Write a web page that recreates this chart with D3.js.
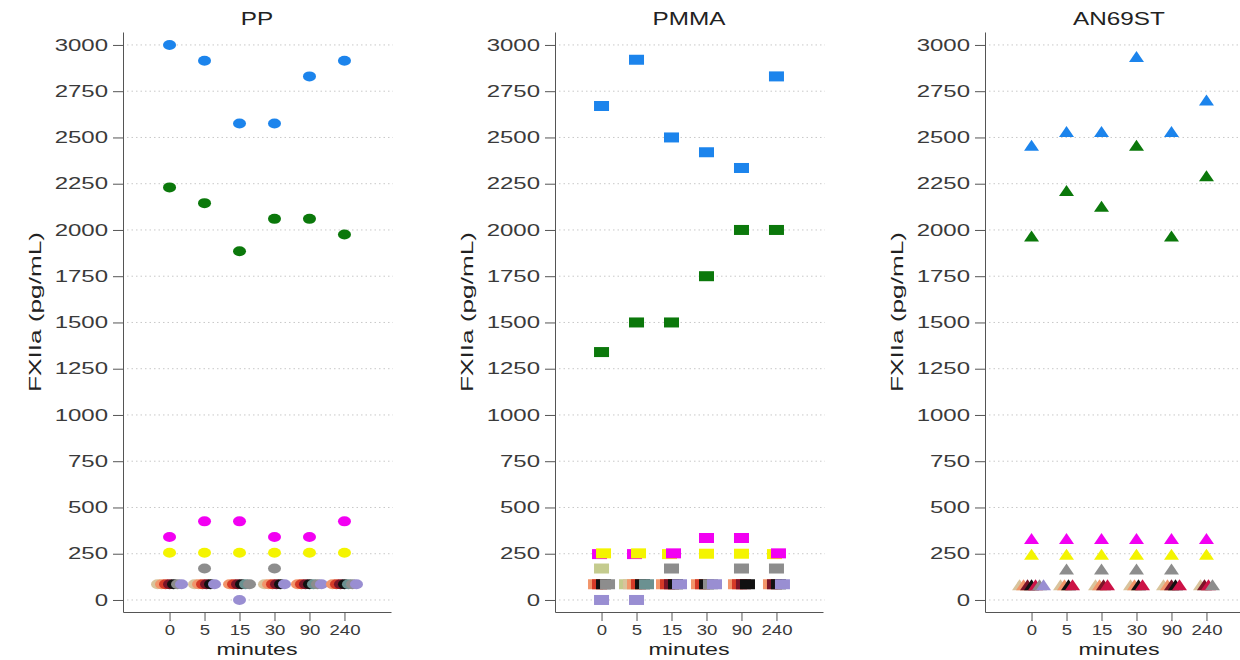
<!DOCTYPE html>
<html>
<head>
<meta charset="utf-8">
<script src="https://cdn.jsdelivr.net/npm/d3@7"></script>
<style>
  html,body{margin:0;padding:0;background:#fff;}
  svg{display:block;font-family:"Liberation Sans",Arial,Helvetica,sans-serif;}
</style>
</head>
<body>
<svg id="chart" width="1240" height="660"></svg>
<script>
// ---------------- data ----------------
const times = ["0", "5", "15", "30", "90", "240"];
const panels = ["PP", "PMMA", "AN69ST"];
const shapes = ["circle", "square", "triangle"];
const yTicks = [0, 250, 500, 750, 1000, 1250, 1500, 1750, 2000, 2250, 2500, 2750, 3000];

const subjects = ["blue", "green", "magenta", "yellow", "khaki", "tan", "salmon", "red",
                  "darkred", "black", "crimson", "slate", "gray", "lavender"];
const subjectColors = ["#1c84ec", "#0b780b", "#f200f2", "#f4f400", "#c4cb8e", "#d9c49c", "#f2956a", "#d53a27",
                       "#7a1428", "#111111", "#cc1246", "#6b9191", "#8d8d8d", "#998ed2"];

// values per subject (rows follow `subjects`), columns follow `times`; null = no point
const ppValues = [
  [3000, 2915, 2575, 2575, 2830, 2915],
  [2230, 2145, 1885, 2060, 2060, 1975],
  [340, 425, 425, 340, 340, 425],
  [255, 255, 255, 255, 255, 255],
  [null, null, null, null, null, null],
  [85, 85, null, 85, null, null],
  [85, 85, 85, 85, 85, 85],
  [85, 85, 85, 85, 85, 85],
  [85, 85, 85, 85, 85, 85],
  [85, 85, 85, 85, 85, 85],
  [null, null, null, null, null, null],
  [null, null, 85, null, 85, 85],
  [85, 170, 85, 170, 85, 85],
  [85, 85, 0, 85, 85, 85]
];
const pmmaValues = [
  [2670, 2920, 2500, 2420, 2335, 2830],
  [1340, 1500, 1500, 1750, 2000, 2000],
  [248, 248, 252, 335, 335, 252],
  [252, 252, 248, 250, 250, 248],
  [170, 85, null, null, null, null],
  [null, 85, null, null, null, null],
  [85, 85, 85, 85, 85, 85],
  [85, 85, 85, 85, 85, null],
  [null, null, 85, null, 85, 85],
  [85, 85, 85, 85, 85, 85],
  [null, null, null, null, null, null],
  [null, 85, null, null, null, null],
  [85, null, 170, 85, 170, 170],
  [0, 0, 85, 85, null, 85]
];
const an69Values = [
  [2455, 2530, 2530, 2935, 2530, 2700],
  [1965, 2210, 2125, 2455, 1965, 2290],
  [330, 330, 330, 330, 330, 330],
  [245, 245, 245, 245, 245, 245],
  [null, null, null, null, null, null],
  [80, 80, 80, 80, 80, 80],
  [80, 80, 80, 80, 80, null],
  [null, null, null, null, null, null],
  [80, null, 80, null, 80, 80],
  [80, 80, null, 80, 80, null],
  [80, 80, 80, 80, 80, 80],
  [null, null, null, null, null, null],
  [80, 165, 165, 165, 165, 80],
  [80, null, null, null, null, null]
];
const panelValues = [ppValues, pmmaValues, an69Values];

// ---------------- layout ----------------
const svg = d3.select("#chart");
const axisX = [123, 555, 985];
const plotW = 268, yTop = 32, yBot = 612;
const dodge = 4;

const y = d3.scaleLinear().domain([-65, 3070]).range([yBot, yTop]);
const x = d3.scalePoint().domain(times).range([0, plotW]).padding(1.33);

panels.forEach((name, p) => {
  const g = svg.append("g").attr("transform", `translate(${axisX[p]},0)`);

  // gridlines
  g.append("g").selectAll("line").data(yTicks).join("line")
    .attr("x1", 4).attr("x2", plotW + 2)
    .attr("y1", d => y(d)).attr("y2", d => y(d))
    .attr("stroke", "#c8c8c8").attr("stroke-width", 1)
    .attr("stroke-dasharray", "1.5,3");

  // y axis
  const ya = g.append("g").call(d3.axisLeft(y).tickValues(yTicks).tickFormat(d3.format("d"))
    .tickSize(10).tickSizeOuter(0).tickPadding(5));
  ya.select(".domain").attr("stroke", "#555");
  ya.selectAll(".tick line").attr("stroke", "#555");
  ya.selectAll(".tick text").attr("font-size", 16).attr("fill", "#3a3a3a")
    .attr("font-family", "Liberation Sans, Arial, sans-serif")
    .attr("x", -15 / 1.5).attr("transform", "scale(1.5,1)");

  // x axis
  const xa = g.append("g").attr("transform", `translate(0,${yBot})`)
    .call(d3.axisBottom(x).tickSize(9).tickSizeOuter(0).tickPadding(3));
  xa.select(".domain").attr("stroke", "#555");
  xa.selectAll(".tick line").attr("stroke", "#555");
  xa.selectAll(".tick text").attr("font-size", 15.5).attr("fill", "#3a3a3a")
    .attr("font-family", "Liberation Sans, Arial, sans-serif")
    .attr("transform", "scale(1.2,1)");

  // title
  g.append("text")
    .attr("transform", `translate(${plotW / 2},25) scale(1.35,1)`)
    .attr("text-anchor", "middle").attr("font-size", 18).attr("fill", "#222")
    .text(name);

  // x label
  g.append("text")
    .attr("transform", `translate(${plotW / 2},655) scale(1.45,1)`)
    .attr("text-anchor", "middle").attr("font-size", 16).attr("fill", "#222")
    .text("minutes");

  // y label
  g.append("text")
    .attr("transform", `translate(-82,312) scale(1.15,1) rotate(-90)`)
    .attr("text-anchor", "middle").attr("font-size", 14).attr("fill", "#222")
    .attr("textLength", 160).attr("lengthAdjust", "spacingAndGlyphs")
    .text("FXIIa (pg/mL)");

  // points with beeswarm-like horizontal dodge of overlapping values
  const vals = panelValues[p];
  const pts = [];
  times.forEach((t, ti) => {
    const col = [];
    subjects.forEach((s, si) => {
      const v = vals[si][ti];
      if (v !== null && v !== undefined) col.push({ t, v, si });
    });
    col.sort((a, b) => a.v - b.v || a.si - b.si);
    const groups = [];
    col.forEach(d => {
      const last = groups[groups.length - 1];
      if (last && Math.abs(d.v - last[last.length - 1].v) < 20) last.push(d);
      else groups.push([d]);
    });
    groups.forEach(gr => {
      gr.sort((a, b) => a.v - b.v || a.si - b.si);
      gr.forEach((d, i) => { d.off = (i - (gr.length - 1) / 2) * dodge; pts.push(d); });
    });
  });

  const mk = g.append("g");
  const shape = shapes[p];
  pts.forEach(d => {
    const cx = x(d.t) + d.off, cy = y(d.v), c = subjectColors[d.si];
    if (shape === "circle") {
      mk.append("ellipse").attr("cx", cx).attr("cy", cy).attr("rx", 6.5).attr("ry", 5).attr("fill", c);
    } else if (shape === "square") {
      mk.append("rect").attr("x", cx - 7.5).attr("y", cy - 5).attr("width", 15).attr("height", 10).attr("fill", c);
    } else {
      mk.append("path").attr("d", `M${cx},${cy - 6}L${cx + 7.5},${cy + 5}L${cx - 7.5},${cy + 5}Z`).attr("fill", c);
    }
  });
});
</script>
</body>
</html>
